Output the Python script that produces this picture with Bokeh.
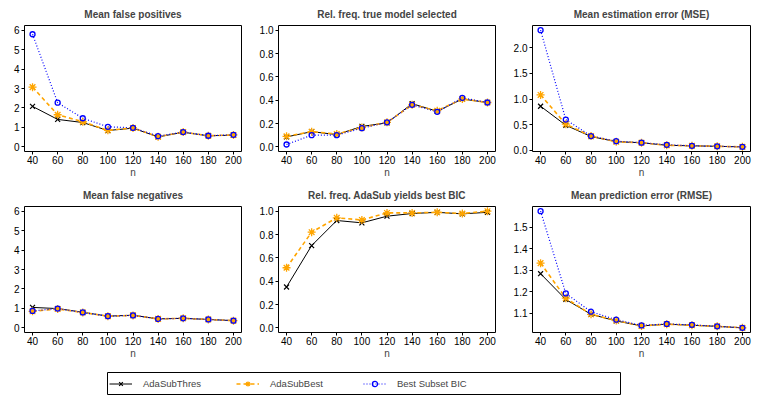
from bokeh.plotting import figure
from bokeh.layouts import column, row
from bokeh.models import Range1d, FixedTicker, NumeralTickFormatter, Legend, LegendItem
from bokeh.embed import file_html
from bokeh.resources import INLINE

n = [40, 60, 80, 100, 120, 140, 160, 180, 200]

fp_thres = [2.08, 1.41, 1.25, 0.84, 0.96, 0.51, 0.75, 0.57, 0.60]
fp_best = [3.07, 1.65, 1.29, 0.85, 0.97, 0.52, 0.76, 0.57, 0.61]
fp_bic = [5.79, 2.27, 1.47, 1.03, 0.98, 0.55, 0.76, 0.57, 0.62]

tm_thres = [0.085, 0.13, 0.105, 0.175, 0.205, 0.37, 0.305, 0.41, 0.38]
tm_best = [0.09, 0.13, 0.11, 0.165, 0.21, 0.36, 0.31, 0.41, 0.38]
tm_bic = [0.02, 0.10, 0.10, 0.16, 0.21, 0.36, 0.30, 0.42, 0.38]

mse_thres = [0.86, 0.49, 0.27, 0.17, 0.15, 0.10, 0.09, 0.08, 0.07]
mse_best = [1.08, 0.51, 0.28, 0.17, 0.15, 0.10, 0.09, 0.08, 0.07]
mse_bic = [2.34, 0.60, 0.28, 0.18, 0.15, 0.11, 0.09, 0.08, 0.07]

fn_thres = [1.05, 0.99, 0.80, 0.60, 0.65, 0.46, 0.49, 0.43, 0.37]
fn_best = [0.85, 0.97, 0.79, 0.60, 0.64, 0.46, 0.49, 0.43, 0.37]
fn_bic = [0.87, 0.99, 0.79, 0.60, 0.64, 0.46, 0.49, 0.43, 0.37]

bb_thres = [0.35, 0.705, 0.92, 0.90, 0.957, 0.98, 0.99, 0.977, 0.99]
bb_best = [0.515, 0.82, 0.943, 0.925, 0.985, 0.985, 0.99, 0.98, 1.0]

rmse_thres = [1.283, 1.163, 1.094, 1.063, 1.040, 1.048, 1.043, 1.038, 1.031]
rmse_best = [1.332, 1.169, 1.094, 1.065, 1.040, 1.048, 1.043, 1.038, 1.031]
rmse_bic = [1.574, 1.191, 1.106, 1.069, 1.042, 1.049, 1.045, 1.038, 1.031]

titles = ["Mean false positives", "Rel. freq. true model selected", "Mean estimation error (MSE)",
          "Mean false negatives", "Rel. freq. AdaSub yields best BIC", "Mean prediction error (RMSE)"]
series_names = ["AdaSubThres", "AdaSubBest", "Best Subset BIC"]

FONT = "Liberation Sans"
STYLES = [
    dict(color="black", dash="solid", lw=1.0, marker="x", size=7, mlw=1.2),
    dict(color="#FFA500", dash="4 3", lw=1.6, marker="asterisk", size=8, mlw=1.3),
    dict(color="blue", dash="1 2", lw=1.2, marker="circle", size=5, mlw=1.3),
]


def expand(lo, hi):
    d = (hi - lo) * 0.04
    return lo - d, hi + d


def panel(title, series, ylim, yticks, fmt, width, height, left, right, top, bottom):
    x0, x1 = expand(min(n), max(n))
    y0, y1 = expand(*ylim)
    p = figure(width=width, height=height, output_backend="svg", toolbar_location=None,
               x_range=Range1d(x0, x1), y_range=Range1d(y0, y1),
               min_border_left=left, min_border_right=right,
               min_border_top=top, min_border_bottom=bottom)
    p.title.text = title
    p.title.align = "center"
    p.title.text_font = FONT
    p.title.text_font_size = "10px"
    p.title.text_font_style = "bold"
    p.title.standoff = 11
    p.grid.visible = False
    p.outline_line_color = "black"
    p.outline_line_width = 1
    p.outline_line_alpha = 1
    p.background_fill_color = "white"
    p.border_fill_color = "white"
    for ax in (p.xaxis[0], p.yaxis[0]):
        ax.axis_line_color = None
        ax.major_tick_out = 3
        ax.major_tick_in = 0
        ax.minor_tick_out = 0
        ax.minor_tick_in = 0
        ax.major_tick_line_color = "black"
        ax.major_label_text_font = FONT
        ax.major_label_text_font_size = "10px"
        ax.major_label_text_color = "black"
    p.xaxis.ticker = FixedTicker(ticks=n)
    p.xaxis.major_label_standoff = 1
    p.xaxis.axis_label = "n"
    p.xaxis.axis_label_text_font = FONT
    p.xaxis.axis_label_text_font_size = "10px"
    p.xaxis.axis_label_text_font_style = "normal"
    p.xaxis.axis_label_standoff = 0
    p.yaxis.ticker = FixedTicker(ticks=yticks)
    p.yaxis.formatter = NumeralTickFormatter(format=fmt)
    p.yaxis.major_label_standoff = 2
    p.yaxis.major_label_orientation = "horizontal"
    for vals, st in zip(series, STYLES):
        p.line(n, vals, line_color=st["color"], line_dash=st["dash"], line_width=st["lw"])
    for vals, st in zip(series, STYLES):
        p.scatter(n, vals, marker=st["marker"], size=st["size"], line_color=st["color"],
                  fill_alpha=0, line_width=st["mlw"])
    return p


def rng(*arrs):
    allv = [v for a in arrs for v in a]
    return (min(allv), max(allv))


W = [255, 255, 253]
L = [24, 23, 22]
R = [14, 15, 13]
H1, H2 = 180, 181
T1, T2 = 25, 26

p1 = panel(titles[0], [fp_thres, fp_best, fp_bic], (0, 6), [0, 1, 2, 3, 4, 5, 6], "0",
           W[0], H1, L[0], R[0], T1, 28)
p2 = panel(titles[1], [tm_thres, tm_best, tm_bic], (0, 1), [0, 0.2, 0.4, 0.6, 0.8, 1.0], "0.0",
           W[1], H1, L[1], R[1], T1, 28)
p3 = panel(titles[2], [mse_thres, mse_best, mse_bic], rng(mse_thres, mse_best, mse_bic),
           [0, 0.5, 1.0, 1.5, 2.0], "0.0", W[2], H1, L[2], R[2], T1, 28)
p4 = panel(titles[3], [fn_thres, fn_best, fn_bic], (0, 6), [0, 1, 2, 3, 4, 5, 6], "0",
           W[0], H2, L[0], R[0], T2, 28)
p5 = panel(titles[4], [bb_thres, bb_best], (0, 1), [0, 0.2, 0.4, 0.6, 0.8, 1.0], "0.0",
           W[1], H2, L[1], R[1], T2, 28)
p6 = panel(titles[5], [rmse_thres, rmse_best, rmse_bic], rng(rmse_thres, rmse_best, rmse_bic),
           [1.1, 1.2, 1.3, 1.4, 1.5], "0.0", W[2], H2, L[2], R[2], T2, 28)

# legend strip (sample renderers use the data but lie outside the strip's view range)
lg = figure(width=sum(W), height=43, output_backend="svg", toolbar_location=None,
            x_range=Range1d(0, 1), y_range=Range1d(0, 1),
            x_axis_location=None, y_axis_location=None,
            min_border_left=107, min_border_right=sum(W) - 107 - 513,
            min_border_top=11, min_border_bottom=10)
lg.grid.visible = False
lg.outline_line_color = "black"
lg.outline_line_width = 1
items = []
for name, vals, st in zip(series_names, [fp_thres, fp_best, fp_bic], STYLES):
    lr = lg.line(n, vals, line_color=st["color"], line_dash=st["dash"], line_width=st["lw"])
    sr = lg.scatter(n, vals, marker=st["marker"], size=st["size"], line_color=st["color"],
                    fill_alpha=0, line_width=st["mlw"])
    items.append(LegendItem(label=name, renderers=[lr, sr]))
legend = Legend(items=items, orientation="horizontal", location=(2, 4),
                border_line_alpha=0, background_fill_alpha=0, padding=0, margin=0,
                spacing=11, label_standoff=11, glyph_width=23, glyph_height=13,
                label_width=82, label_height=13,
                label_text_font=FONT, label_text_font_size="9.5px")
lg.add_layout(legend)

layout = column(row(p1, p2, p3), row(p4, p5, p6), lg)

with open("out.html", "w") as f:
    f.write(file_html(layout, INLINE))
